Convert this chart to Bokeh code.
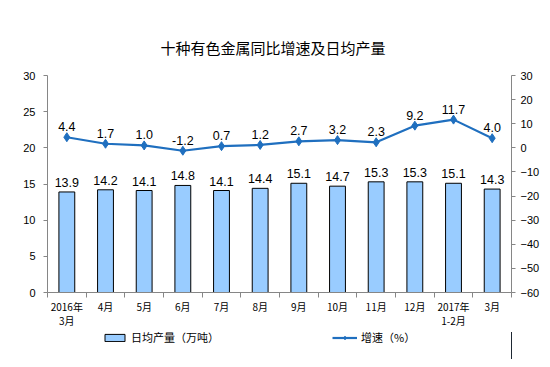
from bokeh.plotting import figure
from bokeh.layouts import column
from bokeh.models import (Range1d, LinearAxis, FixedTicker, LabelSet, ColumnDataSource,
                          Legend, LegendItem)
from bokeh.core.properties import value
from bokeh.embed import file_html
from bokeh.resources import INLINE

# ---- data ----
categories = ["2016年\n3月", "4月", "5月", "6月", "7月", "8月", "9月", "10月",
              "11月", "12月", "2017年\n1-2月", "3月"]
daily_output = [13.9, 14.2, 14.1, 14.8, 14.1, 14.4, 15.1, 14.7, 15.3, 15.3, 15.1, 14.3]
growth_rate = [4.4, 1.7, 1.0, -1.2, 0.7, 1.2, 2.7, 3.2, 2.3, 9.2, 11.7, 4.0]
left_ticks = [0, 5, 10, 15, 20, 25, 30]
right_ticks = [-60, -50, -40, -30, -20, -10, 0, 10, 20, 30]
title_text = "十种有色金属同比增速及日均产量"
bar_name = "日均产量（万吨）"
line_name = "增速（%）"

xs = list(range(1, len(categories) + 1))
src = ColumnDataSource(dict(
    x=xs,
    out=daily_output,
    gr=growth_rate,
    out_lbl=["%.1f" % v for v in daily_output],
    gr_lbl=["%.1f" % v for v in growth_rate],
))

NUM_FONT = "Liberation Sans"
CJK_FONT = "Noto Sans CJK SC"
BAR_FILL = "#99CCFF"
LINE_COLOR = "#1F6FBF"
AXIS_COLOR = "#868686"

p = figure(width=542, height=332, output_backend="svg", toolbar_location=None,
           x_range=Range1d(0.5, len(categories) + 0.5),
           y_range=Range1d(left_ticks[0], left_ticks[-1]),
           min_border_left=47, min_border_right=27, min_border_top=75, min_border_bottom=40)
p.extra_y_ranges = {"y2": Range1d(right_ticks[0], right_ticks[-1])}
p.outline_line_color = None
p.grid.grid_line_color = None
p.background_fill_color = "white"
p.border_fill_color = "white"

# title
p.title.text = title_text
p.title.align = "left"
p.title.offset = 113
p.title.text_font = CJK_FONT
p.title.text_font_size = "15px"
p.title.text_font_style = "normal"
p.title.text_color = "#000000"
p.title.standoff = 36

# x axis
xa = p.xaxis[0]
xa.ticker = FixedTicker(ticks=xs, minor_ticks=[x - 0.5 for x in xs] + [xs[-1] + 0.5])
xa.major_label_overrides = {x: c for x, c in zip(xs, categories)}
xa.major_tick_line_color = None
xa.major_tick_in = 0
xa.major_tick_out = 0
xa.minor_tick_line_color = AXIS_COLOR
xa.minor_tick_in = 0
xa.minor_tick_out = 5
xa.axis_line_color = AXIS_COLOR
xa.major_label_text_font = CJK_FONT
xa.major_label_text_font_size = "10px"
xa.major_label_text_color = "#000000"
xa.major_label_text_line_height = 0.95
xa.major_label_standoff = 1

# left axis
ya = p.yaxis[0]
ya.ticker = FixedTicker(ticks=left_ticks)
ya.minor_tick_line_color = None
ya.major_tick_in = 0
ya.major_tick_out = 4
ya.major_tick_line_color = AXIS_COLOR
ya.axis_line_color = AXIS_COLOR
ya.major_label_text_font = NUM_FONT
ya.major_label_text_font_size = "11px"
ya.major_label_text_color = "#000000"
ya.major_label_standoff = 8

# right axis
ra = LinearAxis(y_range_name="y2", ticker=FixedTicker(ticks=right_ticks))
ra.minor_tick_line_color = None
ra.major_tick_in = 0
ra.major_tick_out = 4
ra.major_tick_line_color = AXIS_COLOR
ra.axis_line_color = AXIS_COLOR
ra.major_label_text_font = NUM_FONT
ra.major_label_text_font_size = "11px"
ra.major_label_text_color = "#000000"
ra.major_label_standoff = 5
p.add_layout(ra, "right")

# bars
p.vbar(x="x", top="out", bottom=0, width=0.41, source=src,
       fill_color=BAR_FILL, line_color="#000000", line_width=1)
p.add_layout(LabelSet(x="x", y="out", text="out_lbl", source=src, text_align="center",
                      text_baseline="bottom", y_offset=5, text_font=value(NUM_FONT),
                      text_font_size=value("12.5px"), text_color="#000000"))

# line
p.line(x="x", y="gr", source=src, y_range_name="y2", line_color=LINE_COLOR, line_width=2.2)
p.scatter(x="x", y="gr", source=src, y_range_name="y2", marker="diamond", size=9,
          fill_color=LINE_COLOR, line_color=LINE_COLOR)
p.add_layout(LabelSet(x="x", y="gr", text="gr_lbl", source=src, y_range_name="y2",
                      text_align="center", text_baseline="bottom", y_offset=6,
                      text_font=value(NUM_FONT), text_font_size=value("12.5px"),
                      text_color="#000000"))

# legend strip below the chart (its renderers lie outside its visible range,
# so only the legend glyphs show)
lg = figure(width=542, height=27, output_backend="svg", toolbar_location=None,
            x_range=Range1d(-1, 0), y_range=Range1d(0, 1),
            x_axis_type=None, y_axis_type=None, min_border=0)
lg.outline_line_color = None
lg.background_fill_color = "white"
lg.border_fill_color = "white"
lb = lg.vbar(x="x", top="out", bottom=0, width=0.41, source=src,
             fill_color=BAR_FILL, line_color="#000000", line_width=1)
ll = lg.line(x="x", y="gr", source=src, line_color=LINE_COLOR, line_width=2.2)
lm = lg.scatter(x="x", y="gr", source=src, marker="diamond", size=8,
                fill_color=LINE_COLOR, line_color=LINE_COLOR)

legend = Legend(items=[LegendItem(label=bar_name, renderers=[lb]),
                       LegendItem(label=line_name, renderers=[ll, lm])],
                orientation="horizontal", location=(55, 14),
                glyph_width=25, glyph_height=9, label_standoff=4, label_width=99,
                spacing=102, padding=0, margin=0, border_line_color=None,
                background_fill_alpha=0,
                label_text_font=CJK_FONT, label_text_font_size="11px",
                label_text_color="#000000")
lg.add_layout(legend, "center")

open("out.html", "w").write(file_html(column(p, lg, spacing=0), INLINE))
